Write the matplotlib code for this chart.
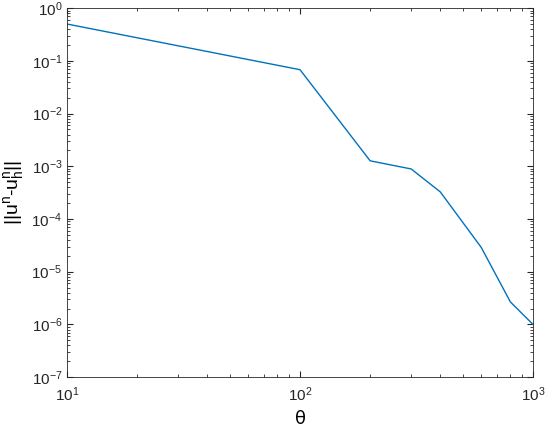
import numpy as np
import matplotlib
matplotlib.use("Agg")
import matplotlib.pyplot as plt

# data
theta = [10, 100, 200, 300, 400, 600, 800, 1000]
err = [0.50, 0.068, 1.27e-3, 8.9e-4, 3.27e-4, 2.88e-5, 2.67e-6, 1.0e-6]

plt.rcParams['font.family'] = ['Liberation Sans', 'DejaVu Sans']
plt.rcParams['mathtext.default'] = 'regular'

fig = plt.figure(figsize=(5.5, 4.3), dpi=100)
ax = fig.add_axes([0.122, 0.123, 0.847, 0.858])

ax.loglog(theta, err, color='#0072BD', lw=1.0)

ax.set_xlim(10, 1000)
ax.set_ylim(1e-7, 1e0)
ax.set_yticks([10.0**k for k in range(-7, 1)])
ax.set_xlabel('θ', fontsize=13, family=['DejaVu Sans'], labelpad=4.5)
ax.set_ylabel(r'||u$^n$-u$_h^n$||', fontsize=14)
ax.yaxis.set_label_coords(-0.088, 0.5)

ax.tick_params(which='both', direction='in', top=True, right=True,
               colors='#262626', labelsize=11)
ax.tick_params(axis='x', pad=6)
ax.tick_params(which='major', length=4)
ax.tick_params(which='minor', length=2)
for s in ax.spines.values():
    s.set_color('#262626')
    s.set_linewidth(0.6)

fig.savefig('out.png', dpi=100)
